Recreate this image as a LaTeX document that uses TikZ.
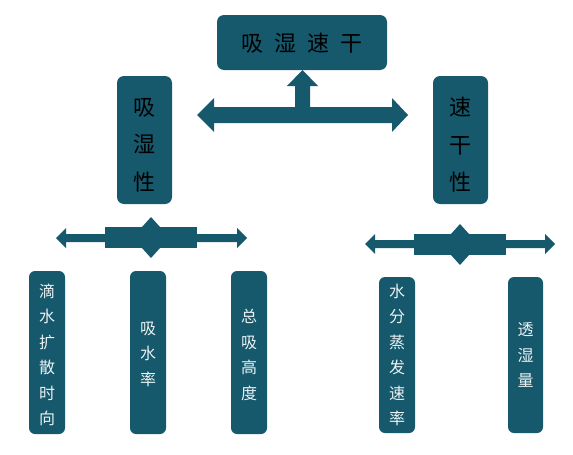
\documentclass[tikz,border=0pt]{standalone}
\usepackage{fontspec}
\newfontfamily\cjk{Noto Sans CJK SC}
\definecolor{teal1}{RGB}{22,88,108}
\definecolor{pale}{RGB}{236,242,244}
\begin{document}
\begin{tikzpicture}[x=1pt,y=-1pt,
  bigbox/.style={fill=teal1,rounded corners=7pt,inner sep=0pt},
  smallbox/.style={fill=teal1,rounded corners=6pt,inner sep=0pt},
  toptext/.style={font=\cjk\fontsize{22}{37.5}\selectfont,text=black,align=center},
  lowtext/.style={font=\cjk\fontsize{16}{25.5}\selectfont,text=pale,align=center},
  blockarrow/.style={fill=teal1,draw=none}]
\useasboundingbox (0,0) rectangle (573,455);
% boxes
\path[bigbox] (217,15) rectangle (387,70);
\node[toptext] (top) at (302,43) {吸\hspace{11pt}湿\hspace{11pt}速\hspace{11pt}干};
\path[bigbox] (117,76) rectangle (172,204);
\node[toptext] (left) at (144.5,145) {吸\\湿\\性};
\path[bigbox] (433,76) rectangle (488,204);
\node[toptext] (right) at (460.5,145) {速\\干\\性};
\path[smallbox] (29,271) rectangle (65,434);
\node[lowtext] (b1) at (47,355) {滴\\水\\扩\\散\\时\\向};
\path[smallbox] (130,271) rectangle (166,434);
\node[lowtext] (b2) at (148,354) {吸\\水\\率};
\path[smallbox] (231,271) rectangle (267,434);
\node[lowtext] (b3) at (249,355) {总\\吸\\高\\度};
\path[smallbox] (379,277) rectangle (415,433);
\node[lowtext] (b4) at (397,355) {水\\分\\蒸\\发\\速\\率};
\path[smallbox] (508,277) rectangle (543,433);
\node[lowtext] (b5) at (525.5,355) {透\\湿\\量};
% top T arrow
\fill[blockarrow] (197,115) -- (214,98) -- (214,107) -- (295,107) -- (295,86) -- (287,86)
  -- (302.5,70) -- (318,86) -- (310,86) -- (310,107) -- (392,107) -- (392,98)
  -- (408,115) -- (392,132) -- (392,123) -- (214,123) -- (214,132) -- cycle;
% left cross arrow
\fill[blockarrow] (56,238) -- (66,228) -- (66,234) -- (237,234) -- (237,228) -- (247,238)
  -- (237,248) -- (237,242) -- (66,242) -- (66,248) -- cycle;
\fill[blockarrow] (105,227) rectangle (197,248);
\fill[blockarrow] (142,227) -- (151,217) -- (160,227) -- cycle;
\fill[blockarrow] (142,248) -- (151,258) -- (160,248) -- cycle;
% right cross arrow
\fill[blockarrow] (365,244) -- (375,234) -- (375,240) -- (545,240) -- (545,234) -- (555,244)
  -- (545,254) -- (545,248) -- (375,248) -- (375,254) -- cycle;
\fill[blockarrow] (414,234) rectangle (506,255);
\fill[blockarrow] (451,234) -- (460,224) -- (469,234) -- cycle;
\fill[blockarrow] (451,255) -- (460,265) -- (469,255) -- cycle;
\end{tikzpicture}
\end{document}
